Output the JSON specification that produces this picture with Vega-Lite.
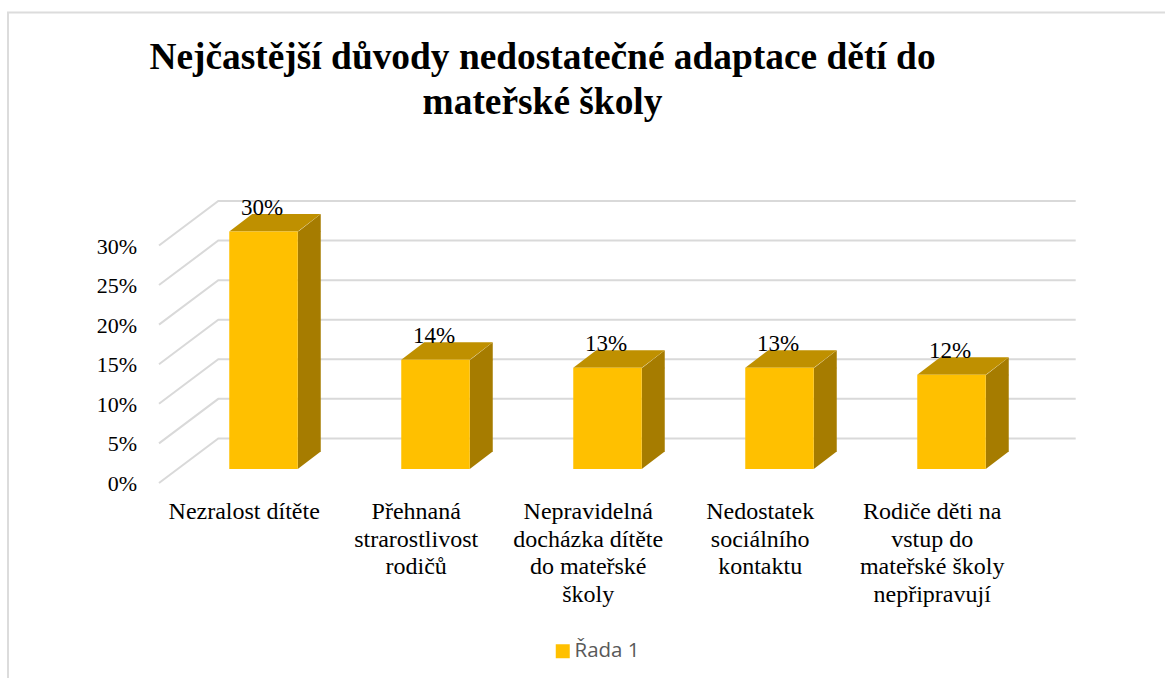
{
"$schema":"https://vega.github.io/schema/vega-lite/v6.json",
"autosize":{"type":"none"},
"width":860,"height":277,
"padding":{"left":177.5,"top":192,"right":127.5,"bottom":209},
"background":"white",
"config":{"view":{"stroke":null},"font":"Liberation Serif"},
"title":{"text":["Nejčastější důvody nedostatečné adaptace dětí do","mateřské školy"],"font":"Liberation Serif","fontSize":37.4,"fontWeight":"bold","color":"#000000","anchor":"middle","dx":-65,"offset":-113,"lineHeight":45},
"datasets":{
"bars":[
{"duvod":"Nezralost dítěte","podil":0.30,"rada":"Řada 1"},
{"duvod":"Přehnaná|strarostlivost|rodičů","podil":0.138,"rada":"Řada 1"},
{"duvod":"Nepravidelná|docházka dítěte|do mateřské|školy","podil":0.128,"rada":"Řada 1"},
{"duvod":"Nedostatek|sociálního|kontaktu","podil":0.128,"rada":"Řada 1"},
{"duvod":"Rodiče děti na|vstup do|mateřské školy|nepřipravují","podil":0.119,"rada":"Řada 1"}
],
"grid":[{"v":0.05},{"v":0.10},{"v":0.15},{"v":0.20},{"v":0.25},{"v":0.30},{"v":0.35}]
},
"layer":[
{"data":{"values":[{"z":0}]},
 "mark":{"type":"point","shape":"M-255.5 209 L-255.5 -456.5 L901.5 -456.5","size":4,"filled":false,"fill":null,"stroke":"#dcdcdc","strokeWidth":2,"opacity":1},
 "encoding":{"x":{"datum":"Nezralost dítěte","type":"nominal","title":null,"scale":{"domain":["Nezralost dítěte","Přehnaná|strarostlivost|rodičů","Nepravidelná|docházka dítěte|do mateřské|školy","Nedostatek|sociálního|kontaktu","Rodiče děti na|vstup do|mateřské školy|nepřipravují"],"paddingInner":0,"paddingOuter":0},
   "axis":{"title":null,"labelExpr":"split(datum.label,'|')","labelAngle":0,"labelFont":"Liberation Serif","labelFontSize":24,"labelColor":"#000000","labelLineHeight":27.5,"labelPadding":30.5,"labelLimit":400,"labelOverlap":false,"ticks":false,"domain":false,"grid":false,"labelOffset":-19.3}},
  "y":{"field":"z","type":"quantitative","title":null,"scale":{"domain":[0,0.35]},
   "axis":{"title":null,"format":".0%","values":[0,0.05,0.10,0.15,0.20,0.25,0.30],"labelFont":"Liberation Serif","labelFontSize":22,"labelColor":"#000000","labelOffset":14.5,"labelPadding":41,"ticks":false,"domain":false,"grid":false}}}},
{"data":{"name":"grid"},
 "mark":{"type":"point","shape":"M-104.5 53.5 L-45.2 9 L812.2 9","size":4,"filled":false,"fill":null,"stroke":"#d9d9d9","strokeWidth":2,"opacity":1},
 "encoding":{"x":{"datum":"Nezralost dítěte","type":"nominal","title":null},"y":{"field":"v","type":"quantitative","title":null}}},
{"data":{"name":"bars"},
 "mark":{"type":"rule","strokeWidth":23,"xOffset":45.75,"y2Offset":-17.5,"color":"#a67c00"},
 "encoding":{"x":{"field":"duvod","type":"nominal","title":null},"y":{"field":"podil","type":"quantitative","title":null},"y2":{"datum":0}}},
{"data":{"name":"bars"},
 "mark":{"type":"point","shape":"M34.25 0.5 L57.25 -17.5 L57.25 0.5 Z","size":4,"filled":true,"color":"#a67c00","opacity":1},
 "encoding":{"x":{"field":"duvod","type":"nominal","title":null},"y":{"field":"podil","type":"quantitative","title":null}}},
{"data":{"name":"bars"},
 "mark":{"type":"point","shape":"M34.25 -18 L57.25 -18 L57.25 -17.5 L34.25 0 Z","size":4,"filled":true,"color":"#a67c00","opacity":1},
 "encoding":{"x":{"field":"duvod","type":"nominal","title":null},"y":{"datum":0,"type":"quantitative","title":null}}},
{"data":{"name":"bars"},
 "mark":{"type":"point","shape":"M-34.25 0 L34.25 0 L57.25 -17.5 L-11.25 -17.5 Z","size":4,"filled":true,"color":"#bf9000","opacity":1},
 "encoding":{"x":{"field":"duvod","type":"nominal","title":null},"y":{"field":"podil","type":"quantitative","title":null}}},
{"data":{"name":"bars"},
 "mark":{"type":"bar","width":68.5},
 "encoding":{
  "x":{"field":"duvod","type":"nominal","title":null},
  "y":{"field":"podil","type":"quantitative","title":null},
  "color":{"field":"rada","type":"nominal","scale":{"range":["#ffc000"]},"legend":{"title":null,"orient":"none","legendX":375,"legendY":449,"symbolType":"square","symbolSize":196,"labelFont":"Open Sans","labelFontSize":20.5,"labelOffset":1.5,"labelColor":"#595959","symbolStrokeWidth":0}}
 }},
{"data":{"name":"bars"},
 "mark":{"type":"text","font":"Liberation Serif","fontSize":23,"color":"#000000","baseline":"middle","dy":-23.5,"dx":-1.5},
 "encoding":{"x":{"field":"duvod","type":"nominal","title":null},"y":{"field":"podil","type":"quantitative","title":null},"text":{"field":"podil","type":"quantitative","format":".0%"}}}
]
}
